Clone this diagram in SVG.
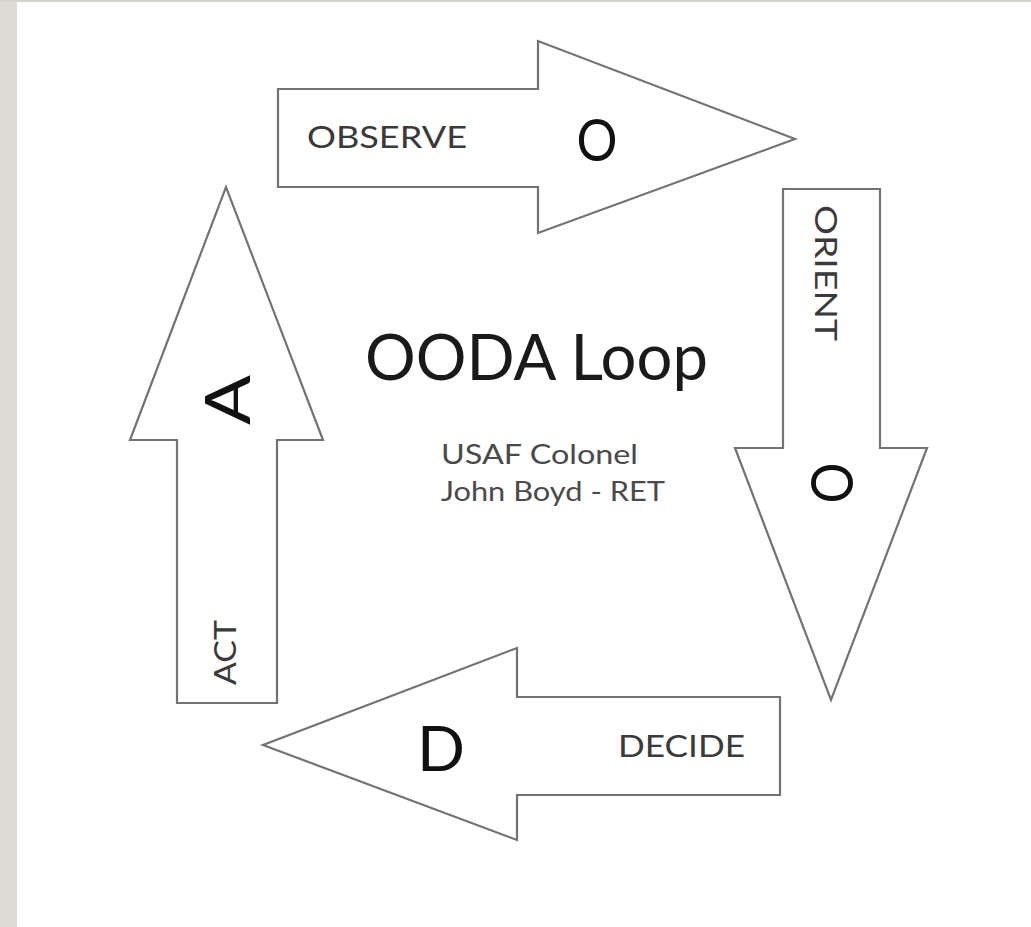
<svg xmlns="http://www.w3.org/2000/svg" width="1031" height="927" viewBox="0 0 1031 927">
  <style>
    .arrow { fill: #ffffff; stroke: #737373; stroke-width: 2.2; stroke-linejoin: miter; }
    .label { font-family: Lato, "Open Sans", "Liberation Sans", sans-serif; fill: #3a3a3a; }
    .letter { font-family: Lato, "Open Sans", "Liberation Sans", sans-serif; fill: #111111; }
    .title { font-family: Lato, "Open Sans", "Liberation Sans", sans-serif; fill: #1a1a1a; }
    .credit { font-family: Lato, "Open Sans", "Liberation Sans", sans-serif; fill: #4a4a4a; }
  </style>

  <!-- page background with grey frame edges -->
  <rect x="0" y="0" width="1031" height="927" fill="#ffffff"/>
  <rect x="0" y="0" width="17" height="927" fill="#dedbd5"/>
  <rect x="0" y="0" width="1031" height="2" fill="#d6d2cc"/>

  <!-- Observe: arrow pointing right -->
  <g id="observe">
    <polygon class="arrow" points="278,89 538,89 538,41 795,139 538,233 538,187 278,187"/>
    <text class="label" x="307" y="148" font-size="31" textLength="160" lengthAdjust="spacingAndGlyphs">OBSERVE</text>
    <text class="letter" x="597" y="161" font-size="58" textLength="41" lengthAdjust="spacingAndGlyphs" text-anchor="middle">O</text>
  </g>

  <!-- Orient: arrow pointing down -->
  <g id="orient">
    <polygon class="arrow" points="783,189 880,189 880,448 927,448 831,700 735,448 783,448"/>
    <text class="label" transform="translate(815,205) rotate(90)" x="0" y="0" font-size="30" textLength="136" lengthAdjust="spacingAndGlyphs">ORIENT</text>
    <text class="letter" transform="translate(811,483) rotate(90)" x="0" y="0" font-size="58" textLength="41" lengthAdjust="spacingAndGlyphs" text-anchor="middle">O</text>
  </g>

  <!-- Decide: arrow pointing left -->
  <g id="decide">
    <polygon class="arrow" points="780,697 517,697 517,648 263,745 517,840 517,795 780,795"/>
    <text class="label" x="618" y="757" font-size="30" textLength="127" lengthAdjust="spacingAndGlyphs">DECIDE</text>
    <text class="letter" x="441" y="771" font-size="62" textLength="48" lengthAdjust="spacingAndGlyphs" text-anchor="middle">D</text>
  </g>

  <!-- Act: arrow pointing up -->
  <g id="act">
    <polygon class="arrow" points="177,703 177,440 130,440 226,187 323,440 277,440 277,703"/>
    <text class="label" transform="translate(236,685) rotate(-90)" x="0" y="0" font-size="30" textLength="65" lengthAdjust="spacingAndGlyphs">ACT</text>
    <text class="letter" transform="translate(250,400) rotate(-90)" x="0" y="0" font-size="62" textLength="50" lengthAdjust="spacingAndGlyphs" text-anchor="middle">A</text>
  </g>

  <!-- centre caption -->
  <g id="caption">
    <text class="title" x="365" y="380" font-size="64" textLength="343" lengthAdjust="spacingAndGlyphs">OODA Loop</text>
    <text class="credit" x="441" y="464" font-size="27" textLength="197" lengthAdjust="spacingAndGlyphs">USAF Colonel</text>
    <text class="credit" x="441" y="501" font-size="27" textLength="224" lengthAdjust="spacingAndGlyphs">John Boyd - RET</text>
  </g>

  <!-- the loop is formed by the arrows themselves; no separate connectors -->
  <g id="connectors"/>
</svg>
